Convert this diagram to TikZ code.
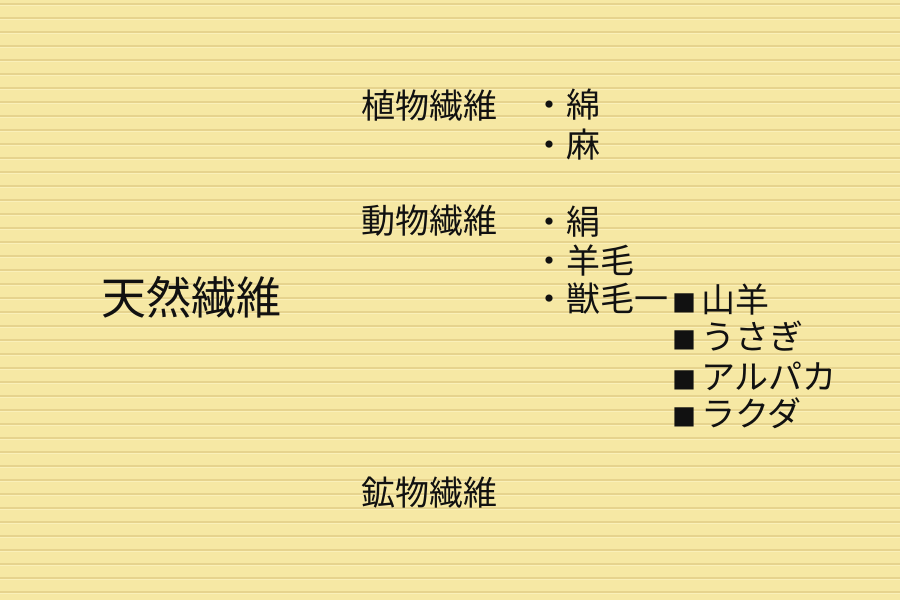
\documentclass[tikz,border=0pt]{standalone}
\usepackage{fontspec}
\setmainfont{Noto Sans CJK JP}
\definecolor{paper}{RGB}{246,232,164}
\definecolor{rule}{RGB}{230,211,142}
\definecolor{ruleh}{RGB}{250,240,185}
\definecolor{ink}{RGB}{17,17,17}
\newcommand{\sqmark}{\makebox[34pt]{\fontsize{24}{24}\selectfont■}}
\tikzset{
  lbl/.style={anchor=base west,inner sep=0pt,text=ink,font=\fontsize{34}{34}\selectfont},
  big/.style={anchor=base west,inner sep=0pt,text=ink,font=\fontsize{45}{45}\selectfont},
}
\begin{document}
\begin{tikzpicture}[x=1pt,y=1pt]
\fill[paper] (0,0) rectangle (900,600);
\useasboundingbox (0,0) rectangle (900,600);
\foreach \i in {0,...,42} {
  \draw[rule,line width=1.1pt] (0,{600-4-14*\i}) -- (900,{600-4-14*\i});
  \draw[ruleh,line width=0.8pt] (0,{600-5.5-14*\i}) -- (900,{600-5.5-14*\i});
}
\node[big] (ten) at (101,{600-298-17}) {天然繊維};
\node[lbl] (shoku) at (361,{600-106-13}) {植物繊維};
\node[lbl] (dou) at (361,{600-221-13}) {動物繊維};
\node[lbl] (kou) at (361,{600-493-13}) {鉱物繊維};
\node[lbl] (men) at (532,{600-105-13}) {・綿};
\node[lbl] (asa) at (532,{600-145-13}) {・麻};
\node[lbl] (kinu) at (532,{600-222-13}) {・絹};
\node[lbl] (youmou) at (532,{600-261-13}) {・羊毛};
\node[lbl] (juumou) at (532,{600-299-13}) {・獣毛一};
\node[lbl] (yagi) at (667,{600-300-13}) {\sqmark 山羊};
\node[lbl] (usagi) at (667,{600-337-13}) {\sqmark うさぎ};
\node[lbl] (alpaca) at (667,{600-377-13}) {\sqmark アルパカ};
\node[lbl] (rakuda) at (667,{600-414-13}) {\sqmark ラクダ};
\end{tikzpicture}
\end{document}
